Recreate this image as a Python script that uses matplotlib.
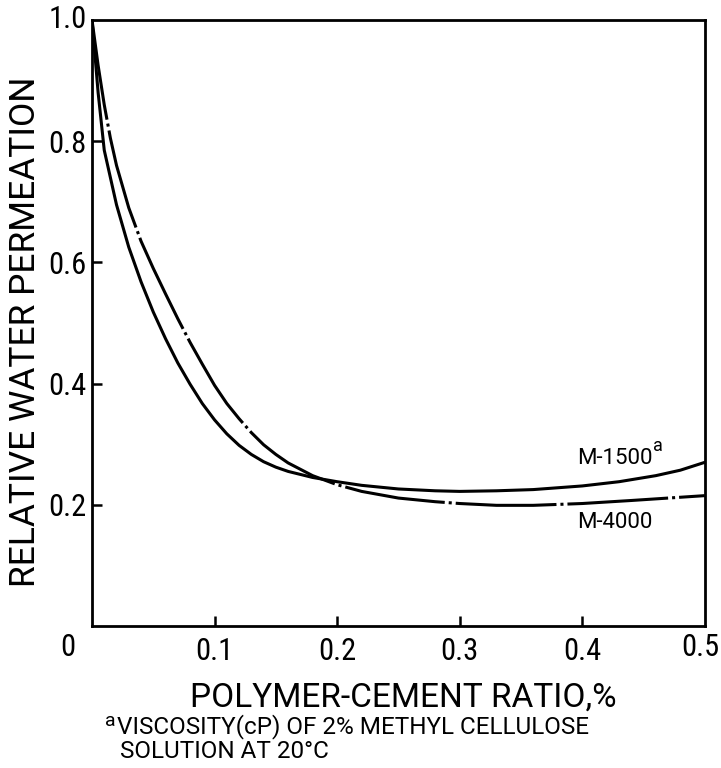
import matplotlib
matplotlib.use("Agg")
import matplotlib.pyplot as plt
from matplotlib import font_manager

# Readings
ratio_1500 = [0, 0.005, 0.01, 0.02, 0.03, 0.04, 0.05, 0.06, 0.07, 0.08, 0.09, 0.10,
              0.11, 0.12, 0.13, 0.14, 0.15, 0.16, 0.18, 0.20, 0.22, 0.25, 0.28,
              0.30, 0.33, 0.36, 0.40, 0.43, 0.46, 0.48, 0.50]
perm_1500 = [1.0, 0.88, 0.785, 0.695, 0.625, 0.568, 0.518, 0.474, 0.434, 0.399,
             0.367, 0.34, 0.317, 0.298, 0.283, 0.271, 0.262, 0.255, 0.245, 0.238,
             0.232, 0.226, 0.223, 0.222, 0.223, 0.225, 0.231, 0.238, 0.248, 0.257,
             0.27]

ratio_4000 = [0, 0.005, 0.01, 0.015, 0.02, 0.03, 0.04, 0.05, 0.06, 0.07, 0.08, 0.09,
              0.10, 0.11, 0.12, 0.13, 0.14, 0.15, 0.16, 0.18, 0.20, 0.22, 0.25, 0.28,
              0.30, 0.33, 0.36, 0.40, 0.44, 0.47, 0.50]
perm_4000 = [1.0, 0.925, 0.86, 0.805, 0.76, 0.69, 0.635, 0.59, 0.548, 0.507, 0.468,
             0.432, 0.397, 0.367, 0.342, 0.319, 0.299, 0.283, 0.269, 0.248, 0.233,
             0.222, 0.211, 0.205, 0.202, 0.199, 0.199, 0.202, 0.207, 0.211, 0.215]

xticks = [0, 0.1, 0.2, 0.3, 0.4, 0.5]
xtick_labels = ["0", "0.1", "0.2", "0.3", "0.4", "0.5"]
yticks = [0.2, 0.4, 0.6, 0.8, 1.0]
ytick_labels = ["0.2", "0.4", "0.6", "0.8", "1.0"]

# condensed face for the numbers, regular face for the words
names = {f.name for f in font_manager.fontManager.ttflist}
narrow = "Roboto Condensed" if "Roboto Condensed" in names else "Liberation Sans"
wide = "Roboto" if "Roboto" in names else "Liberation Sans"
plt.rcParams['font.family'] = [narrow, 'DejaVu Sans']

fig = plt.figure(figsize=(7.21, 7.68), dpi=100)
ax = fig.add_axes([0.1276, 0.185, 0.850, 0.789])

lw = 2.2
ax.plot(ratio_1500, perm_1500, color="black", lw=lw, solid_capstyle="round",
        solid_joinstyle="round")
ax.plot(ratio_4000, perm_4000, color="black", lw=lw, dash_joinstyle="round",
        linestyle=(0, (33, 1.3, 1, 1.3)))

ax.set_xlim(0, 0.5)
ax.set_ylim(0, 1.0)
ax.set_xticks(xticks[1:-1])
ax.set_xticklabels(xtick_labels[1:-1])
ax.set_yticks(yticks[:-1])
ax.set_yticklabels(ytick_labels[:-1])
ax.tick_params(direction="in", length=7, width=1.8, labelsize=22)
ax.tick_params(axis="x", pad=8)
ax.tick_params(axis="y", pad=4)
for s in ax.spines.values():
    s.set_linewidth(2)

# corner labels sit outside the normal tick label positions
ax.text(-0.004, 1.0, "1.0", fontsize=22, ha="right", va="center", clip_on=False)
ax.text(-0.02, -0.036, "0", fontsize=22, ha="center", va="center", clip_on=False)
ax.text(0.496, -0.036, "0.5", fontsize=22, ha="center", va="center", clip_on=False)

fig.text(0.56, 1 - 698 / 768, "POLYMER-CEMENT RATIO,%", fontsize=24,
         family=wide, ha="center", va="center")
fig.text(0.035, 1 - 332 / 768, "RELATIVE WATER PERMEATION", fontsize=25.5,
         family=wide, ha="center", va="center", rotation=90)

ax.text(0.396, 0.276, "M-1500", fontsize=16, family=wide, ha="left", va="center")
ax.text(0.458, 0.297, "a", fontsize=13, family=wide, ha="left", va="center")
ax.text(0.396, 0.17, "M-4000", fontsize=16, family=wide, ha="left", va="center")

fig.text(0.145, 1 - 721 / 768, "a", fontsize=14, family=wide, ha="left",
         va="center")
fig.text(0.162, 1 - 727 / 768, "VISCOSITY(cP) OF 2% METHYL CELLULOSE",
         fontsize=17.5, family=wide, ha="left", va="center")
fig.text(0.166, 1 - 751 / 768, "SOLUTION AT 20°C", fontsize=17.5, family=wide,
         ha="left", va="center")

fig.savefig("out.png", dpi=100)
